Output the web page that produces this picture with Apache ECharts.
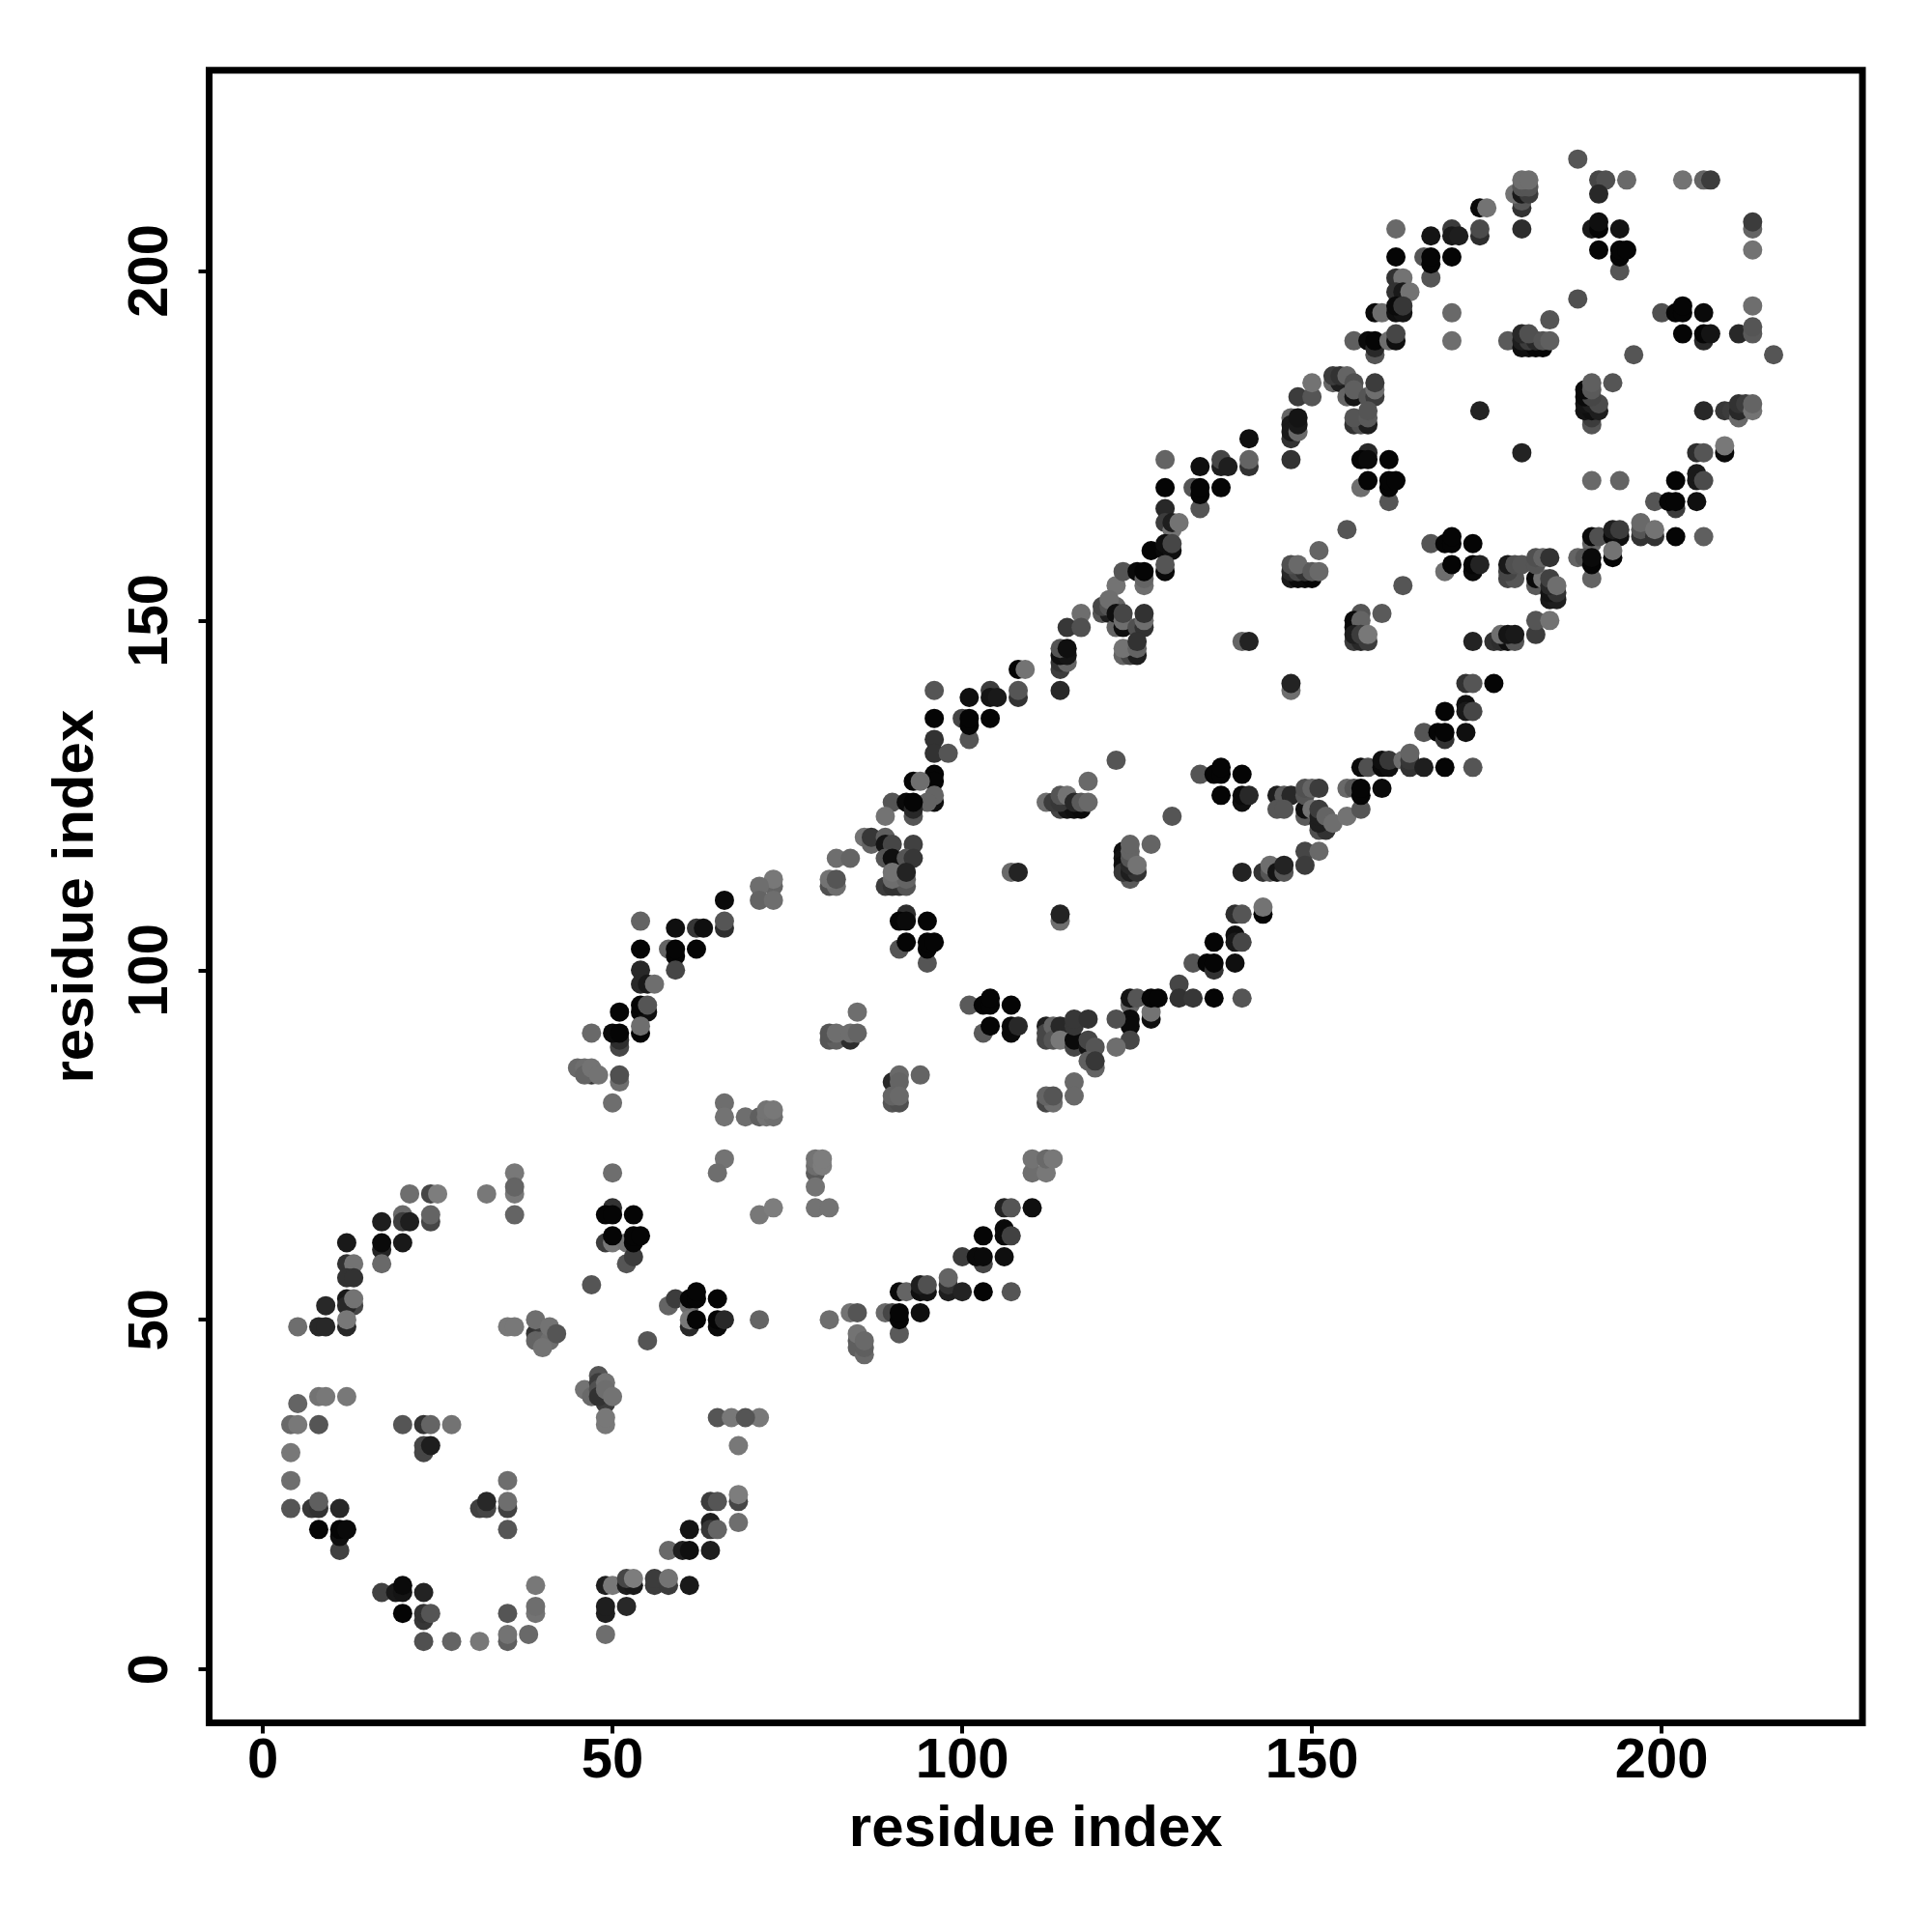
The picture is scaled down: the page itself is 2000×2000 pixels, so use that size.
<!DOCTYPE html>
<html><head><meta charset="utf-8">
<style>html,body{margin:0;padding:0;background:#fff}#c{width:2000px;height:2000px}</style>
<script src="https://cdn.jsdelivr.net/npm/echarts@6/dist/echarts.min.js"></script>
</head><body><div id="c"></div>
<script>
const tickLabels=[0,50,100,150,200];
const axisName='residue index';
// [residue i, residue j, grey level]
const contactsA=[
[36,71,120],[36,68,120],[36,69,100],[36,65,100],[32,68,120],[21,68,110],[24,68,70],[25,68,125],[24,64,70],[24,65,100],[20,65,105],[20,64,60],[21,64,30],[17,64,30],[20,61,25],[17,60,35],[17,61,10],[17,58,105],
[12,61,25],[12,58,50],[13,58,115],[12,56,50],[13,56,50],[12,53,25],[13,52,70],[12,52,40],[13,53,115],[12,49,40],[12,50,120],[9,52,40],[8,49,40],[9,49,40],[5,49,110],
[5,38,100],[8,39,115],[9,39,120],[12,39,120],[4,35,105],[5,35,120],[8,35,85],[4,31,120],[4,27,110],[4,23,85],[7,23,55],[8,23,50],[8,24,95],[11,23,40],[8,20,5],[11,17,65],[11,19,15],[11,20,5],[12,20,10],
[20,35,85],[23,35,50],[24,35,100],[27,35,115],[23,31,70],[23,32,70],[24,32,30],[35,27,110],[35,23,65],[35,24,110],[31,23,65],[32,23,70],[32,24,40],[35,20,85],
[17,11,65],[19,11,25],[20,11,20],[20,12,10],[23,11,35],[20,8,5],[23,7,55],[23,8,50],[24,8,85],[23,4,80],[27,4,100],[31,4,120],[35,4,95],[35,5,115],[35,8,85],[38,5,105],[39,8,115],[39,9,110],[39,12,120],
[49,12,30],[50,12,120],[49,8,30],[49,9,30],[49,5,110],[52,9,40],[52,12,30],[53,12,25],[52,13,70],[53,13,125],[56,12,60],[56,13,60],[58,12,60],[58,13,115],[61,12,25],
[58,17,105],[60,17,30],[61,17,15],[64,17,30],[61,20,20],[64,21,30],[64,20,55],[65,20,100],[68,21,110],[64,24,60],[65,24,85],[68,24,70],[68,25,125],[65,36,85],[67,36,120],[71,36,120],[69,36,85],[68,32,120],
[35,49,120],[36,49,120],[39,48,50],[40,48,60],[39,47,100],[40,47,100],[41,47,110],[40,46,115],[39,50,110],[41,49,115],[42,48,85],
[47,55,85],[55,47,85],[46,40,115],[47,39,105],[48,42,85],[48,41,60],[48,40,80],[49,38,60],[48,39,50],[49,41,115],[49,40,110],[50,39,115],[49,35,120],[49,36,120],
[49,61,60],[50,61,120],[52,61,115],[52,58,85],[53,59,60],[50,66,50],[49,65,5],[50,65,5],[53,65,5],[50,62,5],[53,61,5],[53,62,5],[54,62,5],[50,71,110],
[58,52,100],[59,53,60],[61,52,110],[61,53,5],[62,53,5],[62,54,5],[65,53,5],[61,49,40],[61,50,120],[62,50,5],[65,49,10],[65,50,5],[66,50,40],[71,50,100],[71,65,120],[73,66,125]];
const contactsB=[
[54,107,100],[59,106,15],[62,106,55],[63,106,15],[66,106,45],[66,107,85],[54,103,5],[58,103,100],[59,102,5],[59,103,5],[59,100,70],[62,103,5],
[54,100,40],[54,98,40],[55,98,25],[56,98,110],[54,94,5],[55,94,15],[54,95,5],[55,95,85],[51,94,5],[54,91,5],[54,92,110],[51,89,70],[51,90,45],[50,91,10],[51,91,5],[47,91,105],
[45,86,105],[46,86,110],[47,85,55],[46,85,100],[47,86,115],[48,85,115],[51,84,110],[51,85,80],[50,81,110],
[66,81,110],[66,79,115],[69,79,110],[71,79,95],[72,79,115],[73,79,110],[72,80,115],[73,80,120],[66,73,115],[65,71,110],
[79,71,90],[79,72,110],[79,73,115],[80,72,125],[80,73,125],[79,69,115],[79,66,115],[81,66,115],
[81,90,85],[82,90,95],[84,90,45],[81,91,85],[82,91,110],[84,91,110],[85,91,100],[85,94,110],
[90,84,40],[91,85,105],[91,84,100],[90,81,85],[91,81,80],[90,82,100],[91,82,105],[94,85,100],
[110,71,110],[112,71,120],[110,73,115],[112,73,105],[113,73,120],
[91,54,10],[92,54,100],[94,54,15],[95,54,20],[94,55,30],[95,55,80],[98,54,30],[98,55,50],[98,56,100],[100,54,35],[103,54,5],[107,54,85],
[100,59,60],[103,58,70],[102,59,10],[103,59,10],[106,59,15],[103,62,5],[106,62,10],[106,63,10],[107,62,65],[106,66,35],[107,66,85],[110,66,15],
[84,51,115],[85,51,85],[81,50,110],[85,47,90],[85,46,95],[86,45,105],[86,46,95],[85,48,115],[86,47,105],
[89,51,105],[90,51,70],[91,48,90],[91,50,5],[91,51,5],[94,51,15]];
const contactsC=[
[96,140,85],[101,139,15],[104,140,60],[104,139,20],[105,139,25],[108,139,50],[108,140,85],[114,140,40],[108,143,5],[109,143,115],
[96,136,5],[100,136,70],[101,133,85],[101,135,5],[101,136,5],[104,136,5],[96,133,50],[96,131,50],[98,131,85],
[96,128,5],[96,127,5],[93,127,5],[94,127,110],[96,124,15],[96,125,100],[95,124,100],[90,124,85],[92,124,10],[93,122,85],[93,123,40],[93,124,5],[89,122,115],
[86,119,115],[87,118,100],[87,119,55],[89,119,95],[89,118,20],[90,118,70],[93,118,65],[89,116,85],[90,116,15],[92,116,85],[93,116,55],
[89,112,60],[90,112,50],[91,112,50],[92,112,85],[90,113,110],[92,113,100],[90,114,115],[92,114,35],
[82,116,110],[84,116,100],[81,112,80],[82,112,110],[81,113,115],[82,113,85],
[73,112,100],[73,113,120],[71,112,110],[71,110,100],[73,110,110],[66,110,10],
[92,108,45],[91,107,5],[92,107,10],[95,107,5],[91,103,85],[92,104,5],[95,101,85],[95,103,5],[95,104,5],[96,104,5],
[114,107,110],[114,108,35],[107,114,105],[108,114,35],
[112,124,110],[114,123,70],[115,123,20],[116,123,15],[117,123,10],[113,124,60],[114,124,55],[114,125,85],[115,125,115],[116,124,40],[117,124,90],[118,124,105],[118,127,105],[122,130,85],
[123,117,15],[123,116,20],[123,115,15],[124,113,90],[123,114,55],[124,114,30],[125,114,50],[124,115,40],[124,116,85],[124,117,100],[124,118,100],[125,115,115],[127,118,100],[130,122,85],
[134,128,85],[136,128,5],[137,128,5],[137,129,5],[140,128,5],[137,125,5],[140,124,15],[140,125,10],[141,125,40],[140,114,35],
[139,108,45],[140,108,85],[143,108,5],[143,109,115],[136,104,5],[139,105,15],[139,104,25],[140,104,70],
[133,101,85],[135,101,5],[136,100,50],[136,101,5],[139,101,15],[131,98,70],[131,96,50],[133,96,55],[136,96,5],[140,96,85],
[124,95,100],[124,96,20],[125,96,85],[124,93,10],[124,92,10],[122,93,80],[124,90,70],[122,89,110],[127,93,15],[127,94,115],[127,96,5],[128,96,5],
[112,92,30],[112,90,70],[112,91,70],[113,92,100],[113,90,85],[114,92,40],[114,90,120],[116,89,70],[116,90,10],[116,92,55],[116,93,55],[118,93,50],[118,89,20],[118,90,70],[119,89,85],[119,86,100],[118,87,95],[119,87,55],
[116,84,105],[116,82,105],[112,81,70],[113,81,110],[112,82,100],[113,82,85],
[101,95,90],[103,91,90],[103,95,5],[104,95,5],[104,96,5],[107,95,5],[104,92,5],[107,91,10],[107,92,10],[108,92,40]];
const contactsD=[
[141,176,15],[147,176,50],[147,173,50],[141,172,50],[141,173,100],[129,173,100],[134,172,15],[137,172,30],[137,173,70],[138,172,30],
[147,179,100],[147,178,25],[147,177,25],[148,177,105],[148,178,25],[148,179,20],[148,182,60],[150,182,85],[150,184,115],
[129,169,5],[133,169,85],[134,166,85],[134,168,5],[134,169,5],[137,169,5],[129,166,40],[129,164,60],[130,163,115],[130,164,30],[131,164,115],
[127,160,5],[129,160,10],[129,161,15],[130,160,15],[130,161,70],[122,155,115],[126,155,110],[123,157,85],[125,157,10],[126,156,100],[126,157,5],[129,157,10],[129,158,85],
[117,151,110],[115,149,55],[117,149,80],[120,151,85],[121,151,30],[120,152,70],[121,152,85],[122,152,100],[121,153,110],[122,149,100],[123,149,15],[122,151,15],[123,150,110],[123,151,70],
[125,149,80],[126,149,50],[126,150,110],[126,151,50],[123,145,100],[124,145,70],[125,145,30],[123,146,115],[125,146,100],[125,147,50],
[114,143,60],[114,144,50],[115,144,100],[114,145,15],[115,145,20],[114,146,85],[115,146,15],
[147,140,110],[147,141,35],[140,147,100],[141,147,35],
[145,125,30],[146,125,90],[147,125,40],[145,123,85],[146,123,85],[149,122,90],[149,123,15],[149,125,85],[149,126,80],[150,126,100],[151,126,60],[150,123,115],
[151,120,80],[152,120,50],[151,121,30],[151,122,30],[151,123,60],[152,122,100],[153,121,110],[155,122,115],[157,123,85],
[149,117,70],[151,117,105],[149,115,60],[143,114,50],[144,114,85],[144,115,110],[145,114,20],[146,114,85],[146,115,35],
[155,126,105],[156,126,85],[157,125,5],[157,126,5],[160,126,10],[157,129,10],[158,129,80],
[160,129,10],[161,129,15],[160,130,15],[161,130,55],[163,130,110],[164,129,50],[164,130,55],[164,131,100],[166,129,30],[169,129,5],[173,129,85],
[166,134,85],[168,134,5],[169,133,50],[169,134,5],[172,134,15],[169,137,5],[172,138,15],[172,137,25],[173,137,70],[172,141,50],[173,141,85],[176,141,5]];
const contactsE=[
[188,216,85],[191,213,70],[192,213,80],[195,213,105],[203,213,115],[206,213,100],[207,213,60],[191,211,40],
[180,209,50],[180,210,85],[180,206,45],[179,211,115],[180,211,25],[181,211,60],[180,212,85],[181,212,85],[180,213,110],[181,213,110],[174,209,10],[175,209,115],
[174,205,45],[174,206,75],[170,206,60],[170,205,25],[171,205,30],[167,205,20],[162,206,105],
[162,202,5],[166,202,85],[167,199,85],[167,201,5],[167,202,5],[170,202,5],[162,199,50],[163,199,115],[162,197,50],[163,197,25],[164,197,115],
[159,194,10],[160,194,110],[162,194,15],[163,194,20],[162,195,10],[163,195,55],[170,194,105],[170,190,110],
[156,190,95],[158,190,10],[159,188,85],[159,189,40],[159,190,5],[161,190,110],[162,190,15],[162,191,70],
[188,196,80],[184,193,85],[178,190,90],[180,189,15],[181,189,15],[182,189,5],[183,189,5],[180,190,30],[181,190,60],[182,190,40],[180,191,40],[181,191,80],[183,190,85],[184,190,95],
[190,206,25],[191,206,5],[191,207,15],[194,206,20],[191,203,5],[194,200,85],[194,202,5],[194,203,5],[195,203,5],
[213,206,100],[213,207,60],[213,203,115],[213,195,110],[211,191,40],[213,191,90],[213,192,85],
[200,194,80],[202,194,5],[203,194,5],[203,195,5],[206,194,10],[203,191,5],[206,190,40],[206,191,5],[207,191,20],[196,188,85],[216,188,85],
[190,178,85],[190,179,60],[189,180,20],[190,180,15],[191,180,30],[189,181,20],[190,181,30],[191,181,75],[189,182,10],[190,182,70],[189,183,10],[190,183,90],[190,184,95],[193,184,85],
[174,180,35],[206,180,40],[209,180,55],[210,180,60],[211,179,105],[211,180,40],[211,181,50],[212,181,60],[213,180,115],[213,181,100],
[209,174,10],[209,175,120],[205,174,45],[206,174,85],[180,174,35],[202,170,5],[205,170,25],[205,171,25],[206,170,75],[190,170,105],[194,170,100],
[199,167,85],[202,166,60],[201,167,5],[202,167,5],[205,167,15],[197,162,50],[197,163,85],[197,164,105],[199,162,50],[199,163,115],[202,162,5],[206,162,95],
[190,161,100],[190,162,10],[191,162,80],[193,162,10],[194,162,15],[193,163,30],[194,163,60],
[188,159,100],[189,159,85],[190,156,100],[190,158,5],[190,159,10],[193,159,5],[193,160,115],
[158,174,40],[157,173,5],[158,173,10],[161,173,5],[157,169,110],[158,170,5],[161,167,85],[161,169,5],[161,170,5],[162,170,5],
[153,184,100],[154,184,30],[153,185,60],[154,185,50],[155,185,100],[156,184,80],[155,182,100],[156,182,20],[156,183,95],[158,182,85],[159,182,60],[159,183,110],[159,184,60],
[156,178,50],[157,178,80],[158,178,30],[156,179,85],[158,179,90],[158,180,85],
[155,163,85],[151,160,100],[147,156,25],[148,156,10],[149,156,10],[150,156,5],[147,157,40],[148,157,70],[149,157,50],[147,158,80],[148,158,105],[150,157,90],[151,157,105],
[167,161,85],[169,161,5],[170,161,5],[170,162,5],[173,161,5],[169,157,110],[170,158,5],[173,157,10],[173,158,5],[174,158,35],
[173,147,35],[176,147,50],[177,147,45],[178,147,15],[179,147,85],[177,148,110],[178,148,20],[179,148,25],[182,148,60],[182,150,85],[184,150,115],
[163,155,85],[160,151,90],[157,151,85],[156,149,10],[156,150,10],[157,150,100],[156,147,60],[157,147,40],[158,147,60],[156,148,30],[157,148,60],[158,148,120],
[178,156,70],[179,156,85],[178,157,70],[178,158,25],[179,158,80],[180,158,85],[182,155,90],[182,156,10],[183,156,115],[182,158,85],[182,159,80],[183,159,100],[184,159,50],
[184,153,25],[185,153,30],[184,154,20],[185,154,50],[184,155,40],[184,156,65],[185,155,110]];
const contacts=[...contactsA,...contactsB,...contactsC,...contactsD,...contactsE];
const grey=v=>`rgb(${v},${v},${v})`;
const font='"Liberation Sans", Arial, sans-serif';
const axisBase=(rot,margin)=>({
  type:'value',min:-7.67,max:228.7,
  name:axisName,nameLocation:'middle',
  nameTextStyle:{fontFamily:font,fontWeight:'bold',fontSize:60,color:'#000'},
  splitLine:{show:false},
  axisLine:{show:false,onZero:false},
  axisTick:{show:true,length:11,customValues:tickLabels,lineStyle:{color:'#000',width:4}},
  axisLabel:{show:true,customValues:tickLabels,rotate:rot,margin:margin,fontFamily:font,fontWeight:'bold',fontSize:58,color:'#000'}
});
const chart=echarts.init(document.getElementById('c'),null,{renderer:'canvas',width:2000,height:2000});
chart.setOption({
  animation:false,backgroundColor:'#fff',
  grid:{left:216.5,right:72,top:72.7,bottom:216.4,show:true,borderColor:'#000',borderWidth:7,backgroundColor:'transparent'},
  xAxis:Object.assign(axisBase(0,11),{nameGap:81}),
  yAxis:Object.assign(axisBase(90,31),{nameGap:107}),
  series:[{type:'scatter',symbol:'circle',symbolSize:20,clip:false,large:false,
    data:contacts.map(c=>({value:[c[0],c[1]],itemStyle:{color:grey(c[2]),opacity:1}}))}]
});
</script></body></html>
